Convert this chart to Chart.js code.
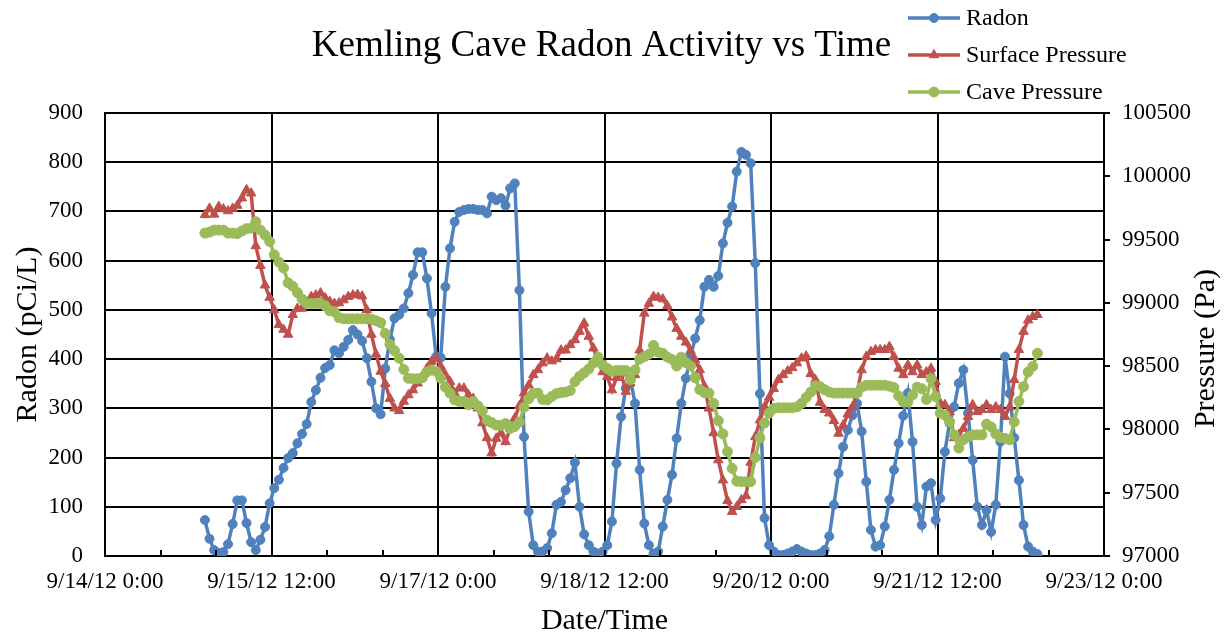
<!DOCTYPE html>
<html>
<head>
<meta charset="utf-8">
<script src="https://cdn.jsdelivr.net/npm/chart.js@4.4.1/dist/chart.umd.min.js"></script>
<style>
html,body{margin:0;padding:0;background:#fff;}
#wrap{width:1225px;height:636px;position:relative;}
</style>
</head>
<body>
<div id="wrap"><canvas id="c" width="1225" height="636"></canvas></div>
<script>
// ---- data (hourly samples, first sample START_HOUR hours after 9/14/12 0:00) ----
const START_HOUR = 21.6;
const seriesNames = ['Radon', 'Surface Pressure', 'Cave Pressure'];
const radon = [73,35,12,6,8,24,65,113,113,67,
28,12,33,59,107,138,155,179,199,209,
229,248,268,313,337,362,382,388,418,412,
425,439,459,450,437,402,354,300,288,381,
440,483,490,503,534,571,617,617,564,493,
405,403,547,625,679,699,703,705,705,703,
703,696,730,723,727,712,747,757,540,242,
90,22,9,9,16,46,104,110,134,158,
190,100,44,22,9,5,9,22,70,188,
283,341,360,310,175,66,22,5,9,60,
114,165,239,310,361,405,442,479,547,561,
547,569,635,677,710,781,821,815,798,595,
330,77,22,9,2,2,5,9,14,9,
5,2,2,5,12,40,104,168,222,256,
286,310,253,151,53,19,22,60,114,175,
229,285,331,232,100,63,141,148,73,117,
212,270,303,351,378,290,195,100,63,93,
49,104,232,405,330,240,154,63,19,9,4];
const surfacePressure = [99695,99746,99699,99761,99742,99726,99746,99769,99827,99893,
99866,99450,99294,99139,99042,98944,98828,98789,98750,98906,
98956,98956,99003,99049,99061,99077,99038,99011,98995,98999,
99022,99049,99061,99065,99053,98944,98750,98594,98458,98361,
98244,98167,98147,98221,98272,98311,98365,98419,98482,98536,
98563,98497,98431,98377,98287,98326,98326,98272,98244,98167,
98050,97933,97813,97929,97972,97902,98007,98089,98186,98287,
98349,98431,98470,98524,98563,98540,98556,98626,98626,98668,
98707,98773,98839,98734,98641,98536,98454,98416,98311,98408,
98443,98299,98365,98431,98626,98917,98995,99049,99042,99030,
98976,98886,98797,98734,98688,98622,98548,98470,98342,98167,
97972,97758,97599,97436,97350,97389,97443,97474,97739,97941,
98073,98178,98252,98322,98392,98431,98462,98486,98524,98563,
98579,98439,98392,98213,98155,98128,98069,97968,98034,98120,
98178,98287,98470,98575,98614,98629,98629,98629,98653,98575,
98482,98431,98509,98454,98509,98431,98454,98482,98377,98206,
98194,98139,97933,97957,98007,98101,98194,98139,98155,98194,
98155,98178,98155,98101,98178,98392,98629,98773,98863,98890,98906];
const cavePressure = [99551,99559,99575,99575,99575,99551,99551,99547,99567,99586,
99590,99641,99575,99536,99485,99380,99322,99275,99158,99131,
99081,99030,98995,98995,98995,98995,98976,98937,98929,98882,
98874,98874,98874,98874,98874,98874,98871,98859,98843,98758,
98672,98622,98563,98474,98404,98400,98400,98408,98454,98470,
98458,98404,98334,98287,98233,98221,98221,98194,98221,98186,
98147,98073,98054,98034,98031,98046,98007,98023,98058,98174,
98241,98283,98287,98237,98233,98260,98283,98291,98295,98307,
98377,98419,98447,98478,98524,98571,98509,98482,98458,98466,
98466,98466,98392,98470,98556,98575,98594,98664,98610,98602,
98571,98552,98501,98571,98528,98501,98408,98314,98291,98287,
98206,98069,97964,97824,97692,97591,97587,97587,97587,97778,
97933,98050,98128,98167,98171,98171,98171,98171,98178,98206,
98252,98295,98346,98338,98314,98295,98287,98287,98287,98287,
98287,98287,98334,98349,98349,98349,98349,98349,98342,98330,
98264,98217,98217,98272,98334,98322,98237,98400,98260,98128,
98112,98062,97957,97852,97918,97941,97957,97957,97957,98042,
98019,97964,97937,97929,97918,98058,98221,98338,98454,98497,98602];

// axis ranges / ticks
const xRange = [0, 216];      // hours after 9/14/12 0:00
const xMajorStep = 36;
const xMinorStep = 12;
const radonRange = [0, 900];
const radonStep = 100;
const pressureRange = [97000, 100500];
const pressureStep = 500;

const FONT = "'Times New Roman', 'Liberation Serif', serif";
const COLORS = ['#4F81BD', '#C0504D', '#9BBB59'];

function fmtDate(h) {
  const day = 14 + Math.floor(h / 24);
  const hr = Math.round(h % 24);
  return '9/' + day + '/12 ' + hr + ':00';
}
function toXY(arr) { return arr.map((v, i) => ({x: START_HOUR + i, y: v})); }

Chart.defaults.font.family = FONT;
Chart.defaults.color = '#000';

function drawMarker(ctx, style, x, y, r, color) {
  ctx.fillStyle = color; ctx.strokeStyle = color; ctx.lineWidth = 1;
  ctx.beginPath();
  if (style === 'triangle') {
    const s = r * 1.732;
    ctx.moveTo(x, y - r);
    ctx.lineTo(x + s / 2, y + r / 2);
    ctx.lineTo(x - s / 2, y + r / 2);
    ctx.closePath();
  } else {
    ctx.arc(x, y, r, 0, Math.PI * 2);
  }
  ctx.fill(); ctx.stroke();
}

const extrasPlugin = {
  id: 'extras',
  afterDraw(chart) {
    const ctx = chart.ctx;
    const xs = chart.scales.x;
    const area = chart.chartArea;
    ctx.save();
    // minor tick marks inside along bottom axis
    ctx.strokeStyle = '#000'; ctx.lineWidth = 2;
    for (let v = xRange[0]; v <= xRange[1]; v += xMinorStep) {
      const px = Math.round(xs.getPixelForValue(v));
      ctx.beginPath(); ctx.moveTo(px, area.bottom); ctx.lineTo(px, area.bottom - 6); ctx.stroke();
    }
    // right axis title (reads bottom to top)
    ctx.save();
    ctx.translate(1206, (area.top + area.bottom) / 2 + 14);
    ctx.rotate(-Math.PI / 2);
    ctx.font = '30px ' + FONT;
    ctx.fillStyle = '#000'; ctx.textAlign = 'center'; ctx.textBaseline = 'middle';
    ctx.fillText('Pressure (Pa)', 0, 0);
    ctx.restore();
    // legend, stacked at top right
    const rows = [18, 55, 92];
    chart.data.datasets.forEach((ds, i) => {
      const y = rows[i];
      ctx.strokeStyle = ds.borderColor; ctx.lineWidth = ds.borderWidth;
      ctx.beginPath(); ctx.moveTo(908, y); ctx.lineTo(960, y); ctx.stroke();
      drawMarker(ctx, ds.pointStyle, 934, y, ds.pointRadius, ds.pointBackgroundColor);
      ctx.fillStyle = '#000';
      ctx.font = '24px ' + FONT;
      ctx.textAlign = 'left'; ctx.textBaseline = 'middle';
      ctx.fillText(ds.label, 966, y + 1);
    });
    ctx.restore();
  }
};

const chart = new Chart(document.getElementById('c'), {
  type: 'line',
  data: {
    datasets: [
      {label: seriesNames[0], data: toXY(radon), yAxisID: 'y', borderColor: COLORS[0], backgroundColor: COLORS[0],
       pointBackgroundColor: COLORS[0], pointBorderColor: COLORS[0], borderWidth: 3.5, pointRadius: 4.5, pointBorderWidth: 1,
       pointStyle: 'circle', tension: 0, order: 3},
      {label: seriesNames[1], data: toXY(surfacePressure), yAxisID: 'y2', borderColor: COLORS[1], backgroundColor: COLORS[1],
       pointBackgroundColor: COLORS[1], pointBorderColor: COLORS[1], borderWidth: 3.5, pointRadius: 5.5, pointBorderWidth: 1,
       pointStyle: 'triangle', tension: 0, order: 2},
      {label: seriesNames[2], data: toXY(cavePressure), yAxisID: 'y2', borderColor: COLORS[2], backgroundColor: COLORS[2],
       pointBackgroundColor: COLORS[2], pointBorderColor: COLORS[2], borderWidth: 3.5, pointRadius: 5, pointBorderWidth: 1,
       pointStyle: 'circle', tension: 0, order: 1}
    ]
  },
  options: {
    responsive: false,
    animation: false,
    devicePixelRatio: 1,
    events: [],
    layout: {padding: {left: 0, right: 22, top: 0, bottom: 0}},
    plugins: {
      legend: {display: false},
      tooltip: {enabled: false},
      title: {
        display: true,
        text: 'Kemling Cave Radon Activity vs Time',
        color: '#000',
        font: {family: FONT, size: 37, weight: 'normal', lineHeight: 1.2},
        padding: {top: 24, bottom: 44.6}
      }
    },
    scales: {
      x: {
        type: 'linear', position: 'bottom',
        min: xRange[0], max: xRange[1],
        afterFit: s => { s.height = 80; },
        ticks: {stepSize: xMajorStep, padding: 12, maxRotation: 0, autoSkip: false,
                font: {size: 23}, color: '#000', callback: v => fmtDate(v)},
        grid: {color: '#000', lineWidth: 2, drawTicks: false},
        border: {display: true, color: '#000', width: 2},
        title: {display: true, text: 'Date/Time', font: {size: 30, lineHeight: 1}, padding: {top: 0, bottom: 0}, color: '#000'}
      },
      y: {
        type: 'linear', position: 'left',
        min: radonRange[0], max: radonRange[1],
        afterFit: s => { s.width = 105; },
        ticks: {stepSize: radonStep, padding: 22, font: {size: 23}, color: '#000'},
        grid: {color: '#000', lineWidth: 2, drawTicks: false},
        border: {display: true, color: '#000', width: 2},
        title: {display: true, text: 'Radon (pCi/L)', font: {size: 30, lineHeight: 1}, padding: {top: 13, bottom: 0}, color: '#000'}
      },
      y2: {
        type: 'linear', position: 'right',
        min: pressureRange[0], max: pressureRange[1],
        afterFit: s => { s.width = 99; },
        ticks: {stepSize: pressureStep, padding: 12, font: {size: 23}, color: '#000',
                callback: v => String(v)},
        grid: {drawOnChartArea: false, drawTicks: true, tickLength: 6, color: '#000', lineWidth: 2},
        border: {display: true, color: '#000', width: 2},
        title: {display: false}
      }
    }
  },
  plugins: [extrasPlugin]
});
</script>
</body>
</html>
